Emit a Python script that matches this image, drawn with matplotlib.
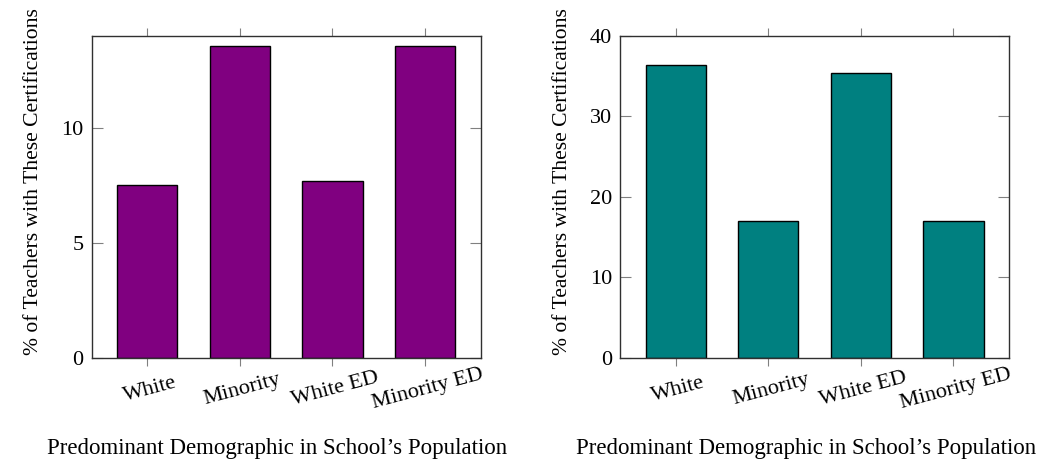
import matplotlib
matplotlib.use("Agg")
import matplotlib.pyplot as plt

# --- Data ---
categories = ["White", "Minority", "White ED", "Minority ED"]
left_values = [7.53, 13.55, 7.67, 13.55]
right_values = [36.4, 17.0, 35.4, 17.0]

plt.rcParams["font.family"] = ["Liberation Serif", "DejaVu Serif"]
plt.rcParams["font.size"] = 16

fig = plt.figure(figsize=(10.62, 4.68), dpi=100)
ax1 = fig.add_axes([0.0863, 0.235, 0.3663, 0.689])
ax2 = fig.add_axes([0.5841, 0.235, 0.366, 0.689])

panels = [
    (ax1, left_values, "#800080", 14, [0, 5, 10]),
    (ax2, right_values, "#008080", 40, [0, 10, 20, 30, 40]),
]

for ax, vals, color, ymax, yticks in panels:
    x = range(len(categories))
    ax.bar(x, vals, width=0.65, color=color, edgecolor="black", linewidth=1.0)
    ax.set_xlim(-0.6, 3.6)
    ax.set_ylim(0, ymax)
    ax.set_yticks(yticks)
    ax.set_xticks(list(x))
    ax.set_xticklabels(categories, rotation=15, ha="center", va="top",
                       rotation_mode="anchor")
    ax.tick_params(axis="y", direction="in", length=8, color="#808080",
                   left=True, right=True, pad=6)
    ax.tick_params(axis="x", direction="out", length=6, color="#808080",
                   bottom=True, top=True, pad=10)
    for sp in ax.spines.values():
        sp.set_color("#303030")
        sp.set_linewidth(1.0)
    ax.set_ylabel("% of Teachers with These Certifications", labelpad=13,
                  fontsize=15.6)
    ax.set_xlabel("Predominant Demographic in School\u2019s Population",
                  labelpad=18, fontsize=16.5)
    ax.yaxis.label.set_y(0.548)
    ax.xaxis.label.set_x(0.477)

fig.savefig("out.png", dpi=100)
